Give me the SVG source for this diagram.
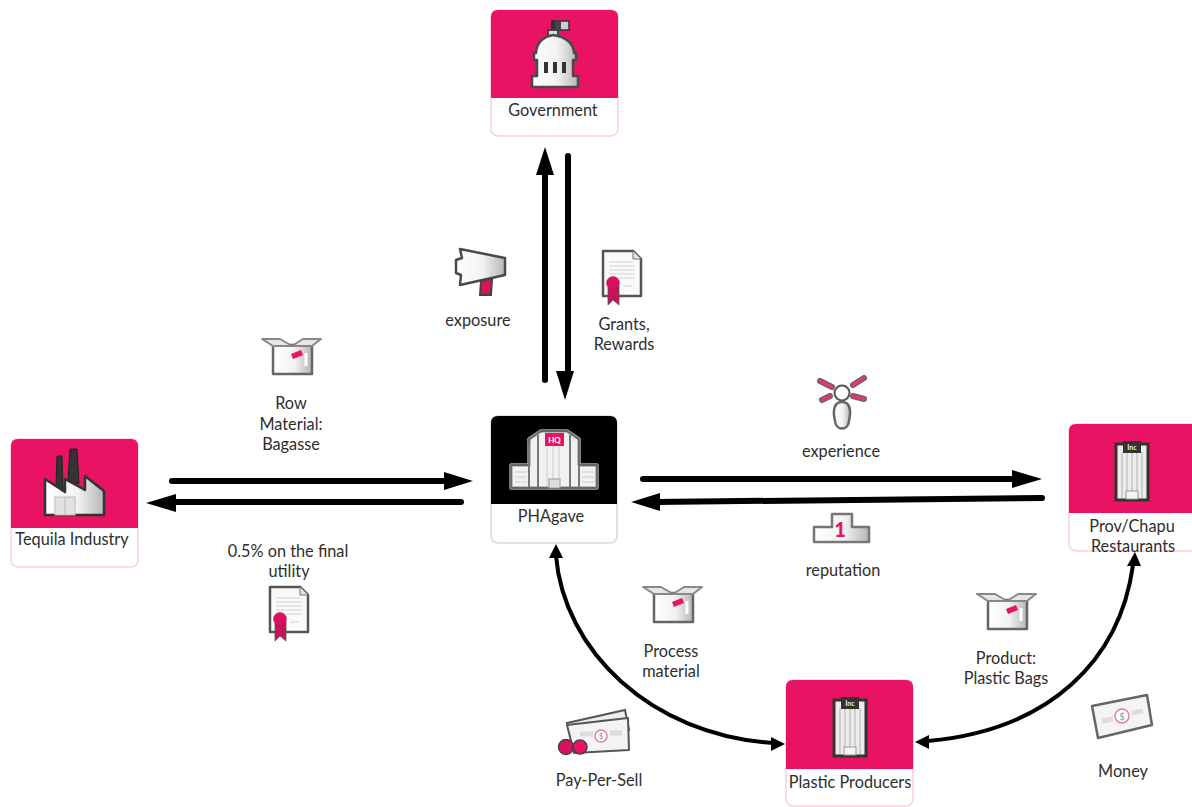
<svg xmlns="http://www.w3.org/2000/svg" width="1192" height="807" viewBox="0 0 1192 807">
<style>
text{font-family:"Lato","Liberation Sans",sans-serif;font-size:16.300px;fill:#2e2e2e;text-anchor:middle;transform:translateY(1px)}
.card{fill:#fff;stroke:#fbcfe2;stroke-width:1.5}
.cardk{fill:#fff;stroke:#d8d8d8;stroke-width:1.5}
.head{fill:#e91263}
.ico{fill:url(#g);stroke:#4a4a4a;stroke-width:2.500;stroke-linejoin:round}
.arr{fill:none;stroke:#000;stroke-width:6;stroke-linecap:round}
.cur{fill:none;stroke:#000;stroke-width:4}
</style>
<defs>
<linearGradient id="g" x1="0" x2="1" y1="0" y2="0"><stop offset="0" stop-color="#fff"/><stop offset=".55" stop-color="#f2f2f2"/><stop offset="1" stop-color="#b5b5b5"/></linearGradient>
<symbol id="box" width="62" height="40" viewBox="0 0 62 40" overflow="visible">
<path class="ico" d="M12 7H51V36H12Z" style="stroke:#666"/>
<path d="M1 1H19L31 8L42 1H60L51 8H12Z" fill="#e6e6e6" stroke="#888" stroke-width="2" stroke-linejoin="round"/>
<path d="M30 16L40 12L42 17L32 21Z" fill="#e91263"/>
<path d="M45 15V28" stroke="#fff" stroke-width="3"/>
</symbol>
<symbol id="cert" width="40" height="56" viewBox="0 0 40 56" overflow="visible">
<path d="M1 1H31L39 9V46H1Z" fill="#fafafa" stroke="#555" stroke-width="2.500" stroke-linejoin="round"/>
<path d="M31 1V9H39" fill="#e4e4e4" stroke="#777" stroke-width="1"/>
<path d="M7 12H31M7 16H33M7 20H33M7 24H33M7 28H33M21 36H30" stroke="#d4d4d4" stroke-width="1.2"/>
<path d="M6 36V55L11 50L17 55V36Z" fill="#c5125a" stroke="#555" stroke-width=".8"/>
<circle cx="11" cy="33" r="6.500" fill="#d9125f" stroke="#b01050" stroke-width=".5"/>
</symbol>
<symbol id="inc" width="34" height="62" viewBox="0 0 34 62" overflow="visible">
<rect x="1" y="4" width="32" height="56" fill="#ececec" stroke="#333" stroke-width="3"/>
<path d="M7 12V58M12 12V58M17 12V58M22 12V58M27 12V58" stroke="#bcbcbc" stroke-width="1.200"/>
<rect x="8" y="1" width="18" height="12" fill="#333"/>
<text x="17" y="9" style="font-size:7px;font-weight:700;fill:#eee">Inc</text>
<rect x="11" y="51" width="12" height="8" fill="#f4f4f4" stroke="#999" stroke-width="1"/>
</symbol>
</defs>

<g id="connectors">
<path class="arr" d="M545 380V165"/><path d="M545 147L536 175H554Z" fill="#000"/>
<path class="arr" d="M568 156V375"/><path d="M565 400L556 371H574Z" fill="#000"/>
<path class="arr" d="M172 481H450"/><path d="M473 481L444 472V490Z" fill="#000"/>
<path class="arr" d="M461 502H170"/><path d="M146 503L176 494V512Z" fill="#000"/>
<path class="arr" d="M643 479H1020"/><path d="M1042 479L1012 470V488Z" fill="#000"/>
<path class="arr" d="M1042 498L655 502"/><path d="M631 502L660 493V511Z" fill="#000"/>
<path class="cur" d="M556 556C564 650 650 735 773 743"/><path d="M556 544L549 558H563Z" fill="#000"/><path d="M785 744L771 737V751Z" fill="#000"/>
<path class="cur" d="M1133 565C1120 660 1050 730 928 741"/><path d="M1135 552L1127 566H1141Z" fill="#000"/><path d="M915 742L929 735V749Z" fill="#000"/>
</g>

<g id="node-government">
<rect class="card" x="491" y="10" width="127" height="126" rx="7"/>
<path class="head" d="M498 10H611Q618 10 618 17V98H491V17Q491 10 498 10Z"/>
<path d="M553 20V36" stroke="#333" stroke-width="4"/><path d="M555 21H569V30H555Z" fill="#ccc" stroke="#333" stroke-width="1.500"/><path d="M555 21H561V30H555Z" fill="#444"/>
<rect x="548" y="30" width="10" height="7" fill="#ddd" stroke="#444" stroke-width="2"/>
<path class="ico" d="M536 53Q537 38 553 35Q573 38 574 53H576V60H573V76H578V87H532V76H537V60H534V53Z"/>
<path d="M546 62V73M555 62V73M564 62V73" stroke="#333" stroke-width="4"/>
<text x="553" y="115">Government</text>
</g>

<g id="node-phagave">
<rect class="cardk" x="491" y="416" width="126" height="127" rx="7"/>
<path d="M498 416H610Q617 416 617 423V504H491V423Q491 416 498 416Z" fill="#000"/>
<path d="M511 465H529V439L541 431H567L579 439V465H597V488H511Z" fill="#f1f1f1" stroke="#aaa" stroke-width="3.500" stroke-linejoin="round"/>
<path d="M511 465H529V439L541 431H567L579 439V465H597V488H511Z" fill="none" stroke="#666" stroke-width="1.800" stroke-linejoin="round"/>
<path d="M529 445V487M538 435V487M570 435V487M579 465V487" stroke="#777" stroke-width="2"/>
<path d="M547 436V486M553 436V486M559 436V486M515 472H527M515 477H527M515 482H527M582 472H594M582 477H594M582 482H594" stroke="#ccc" stroke-width="1"/>
<rect x="545" y="433" width="19" height="13" fill="#e91263"/>
<text x="554.500" y="442" style="font-size:8px;font-weight:700;fill:#fff">HQ</text>
<rect x="549" y="479" width="11" height="9" fill="#ddd" stroke="#999"/>
<text x="551" y="521">PHAgave</text>
</g>

<g id="node-tequila">
<rect class="card" x="11" y="439" width="127" height="128" rx="7"/>
<path class="head" d="M18 439H131Q138 439 138 446V528H11V446Q11 439 18 439Z"/>
<path d="M56 487L57 456H62L63 490ZM68 480L70 449H77L79 484Z" fill="#333" stroke="#222"/>
<path class="ico" d="M45 479L65 492V479L85 490V476L104 491V515H45Z" style="stroke:#333"/>
<rect x="55" y="497" width="20" height="18" fill="#e2e2e2" stroke="#bbb"/><path d="M65 497V515" stroke="#bbb"/>
<text x="72" y="544">Tequila Industry</text>
</g>

<g id="node-prov">
<rect class="card" x="1069" y="424" width="128" height="127" rx="7"/>
<path class="head" d="M1076 424H1197V513H1069V431Q1069 424 1076 424Z"/>
<use href="#inc" x="1115" y="440"/>
<text x="1132" y="531">Prov/Chapu</text>
<text x="1133" y="551">Restaurants</text>
</g>

<g id="node-plastic">
<rect class="card" x="786" y="680" width="127" height="126" rx="7"/>
<path class="head" d="M793 680H906Q913 680 913 687V769H786V687Q786 680 793 680Z"/>
<use href="#inc" x="833" y="696"/>
<text x="850" y="787">Plastic Producers</text>
</g>

<g id="flow-exposure">
<path class="ico" d="M460 249L505 258V275L460 285L461 275L456 273V260L462 258Z"/>
<path d="M481 281L492 279L491 295H480Z" fill="#d9125f" stroke="#444" stroke-width="2"/>
<text x="478" y="325">exposure</text>
</g>
<g id="flow-grants"><use href="#cert" x="602" y="250"/><text x="624" y="329">Grants,</text><text x="624" y="349">Rewards</text></g>
<g id="flow-row"><use href="#box" x="261" y="338"/><text x="291" y="408">Row</text><text x="291" y="429">Material:</text><text x="291" y="449">Bagasse</text></g>
<g id="flow-utility"><text x="288" y="556">0.5% on the final</text><text x="289" y="576">utility</text><use href="#cert" x="269" y="586"/></g>
<g id="flow-experience">
<path d="M820 381L832 387M864 378L853 385M822 400L830 396M864 399L853 396" stroke="#666" stroke-width="6" stroke-linecap="round"/>
<path d="M820 381L832 387M864 378L853 385M822 400L830 396M864 399L853 396" stroke="#e0386f" stroke-width="3.500" stroke-linecap="round"/>
<circle cx="842" cy="393" r="7.500" fill="#fff" stroke="#555" stroke-width="2"/>
<path class="ico" d="M842 402C833 402 833 412 835 421C836 431 848 431 849 421C851 412 851 402 842 402Z" style="stroke:#666"/>
<text x="841" y="456">experience</text>
</g>
<g id="flow-reputation">
<path class="ico" d="M814 542V527H832V514H852V527H869V542Z" style="stroke:#777"/>
<text x="840" y="536" style="font-size:20px;font-weight:900;fill:#e91263">1</text>
<text x="843" y="575">reputation</text>
</g>
<g id="flow-process"><use href="#box" x="642" y="586"/><text x="671" y="656">Process</text><text x="671" y="676">material</text></g>
<g id="flow-product"><use href="#box" x="976" y="593"/><text x="1006" y="663">Product:</text><text x="1006" y="683">Plastic Bags</text></g>
<g id="flow-pay">
<path d="M567 723L625 710L629 730L576 748Z" fill="#eee" stroke="#555" stroke-width="2"/>
<path d="M567 725L628 718L629 750L574 753Z" fill="#f4f4f4" stroke="#555" stroke-width="2" stroke-linejoin="round"/>
<circle cx="601" cy="736" r="6" fill="#fff" stroke="#e67d9f" stroke-width="1.500"/>
<text x="601" y="738" style="font-size:7px;fill:#888">$</text>
<path d="M580 734H593M610 733H622" stroke="#ddd" stroke-width="5"/>
<circle cx="566" cy="747" r="7.500" fill="#d9125f" stroke="#444" stroke-width="1.500"/><circle cx="580" cy="747" r="7" fill="#e91263" stroke="#444" stroke-width="1.500"/>
<text x="599" y="785">Pay-Per-Sell</text>
</g>
<g id="flow-money">
<path d="M1092 706L1147 695L1152 725L1098 738Z" fill="#f4f4f4" stroke="#666" stroke-width="2.500" stroke-linejoin="round"/>
<circle cx="1122" cy="716" r="7" fill="#fff" stroke="#e67d9f" stroke-width="1.500"/>
<text x="1122" y="719" style="font-size:9px;fill:#888">$</text>
<path d="M1102 721L1113 719M1132 713L1143 711" stroke="#ddd" stroke-width="5"/>
<text x="1123" y="776">Money</text>
</g>
</svg>
